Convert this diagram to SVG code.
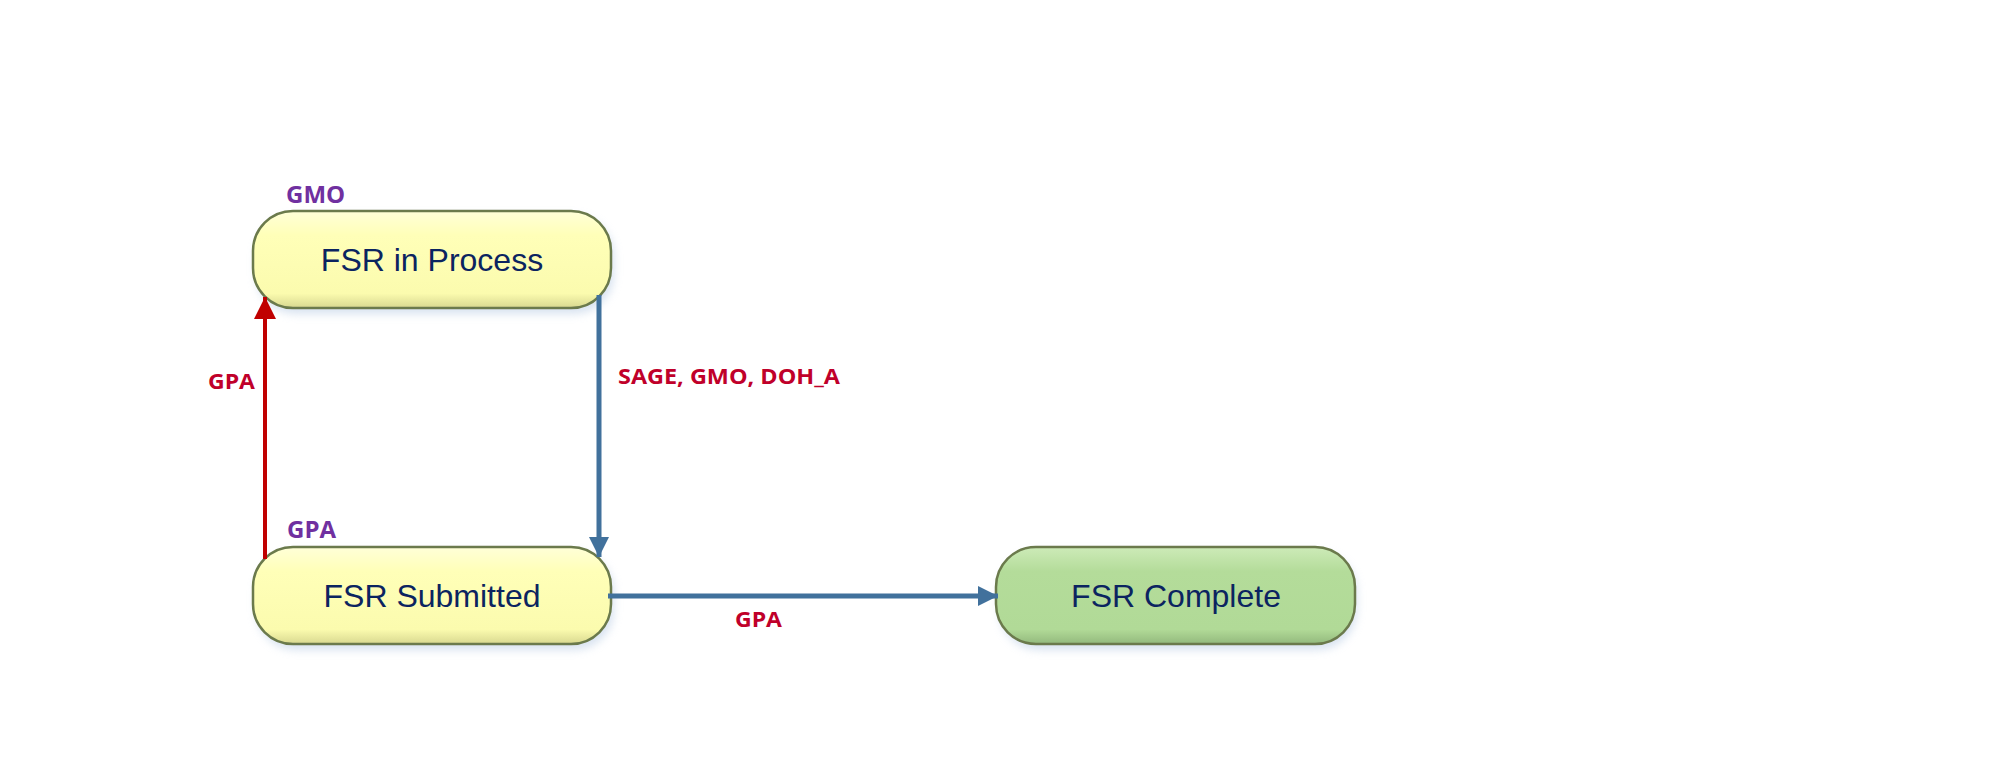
<svg xmlns="http://www.w3.org/2000/svg" width="2004" height="774" viewBox="0 0 2004 774">
<style>
.lbl{font-family:"Open Sans","Liberation Sans",sans-serif;font-weight:bold;}
.edge{fill:#C0002A;font-size:21px;}
.owner{fill:#7030A0;font-size:24px;}
.ntxt{font-family:"Liberation Sans",Arial,sans-serif;font-size:32px;fill:#0B2460;text-anchor:middle;}
.box{stroke:#6B7A4C;stroke-width:2.5;}
</style>
<defs>
<linearGradient id="yel" x1="0" y1="0" x2="0" y2="1">
<stop offset="0" stop-color="#FFFFD8"/>
<stop offset="0.25" stop-color="#FFFFB8"/>
<stop offset="0.85" stop-color="#FBFBAE"/>
<stop offset="1" stop-color="#D8D890"/>
</linearGradient>
<linearGradient id="grn" x1="0" y1="0" x2="0" y2="1">
<stop offset="0" stop-color="#CDEBB8"/>
<stop offset="0.25" stop-color="#B4DC9A"/>
<stop offset="0.85" stop-color="#B1DA97"/>
<stop offset="1" stop-color="#93B97D"/>
</linearGradient>
<filter id="sh" x="-10%" y="-20%" width="120%" height="150%">
<feGaussianBlur stdDeviation="4"/>
</filter>
<marker id="aBlue" viewBox="0 0 10 10" refX="10" refY="5" markerWidth="4" markerHeight="4" orient="auto" markerUnits="strokeWidth">
<path d="M0,0 L10,5 L0,10 z" fill="#41719C"/>
</marker>
<marker id="aRed" viewBox="0 0 10 10" refX="10" refY="5" markerWidth="5.5" markerHeight="5.5" orient="auto" markerUnits="strokeWidth">
<path d="M0,0 L10,5 L0,10 z" fill="#C00000"/>
</marker>
</defs>
<rect width="2004" height="774" fill="#FFFFFF"/>

<g id="node-inprocess">
<rect x="256" y="216" width="358" height="98" rx="40" fill="#BFD0E6" opacity="0.6" filter="url(#sh)"/>
<rect class="box" x="253" y="211" width="358" height="97" rx="40" fill="url(#yel)"/>
<text class="ntxt" x="432" y="271">FSR in Process</text>
<text class="lbl owner" x="286" y="203">GMO</text>
</g>

<g id="node-submitted">
<rect x="256" y="552" width="358" height="98" rx="40" fill="#BFD0E6" opacity="0.6" filter="url(#sh)"/>
<rect class="box" x="253" y="547" width="358" height="97" rx="40" fill="url(#yel)"/>
<text class="ntxt" x="432" y="607">FSR Submitted</text>
<text class="lbl owner" x="287" y="538">GPA</text>
</g>

<g id="node-complete">
<rect x="999" y="552" width="358" height="98" rx="40" fill="#BFD0E6" opacity="0.6" filter="url(#sh)"/>
<rect class="box" x="996" y="547" width="359" height="97" rx="40" fill="url(#grn)"/>
<text class="ntxt" x="1176" y="607">FSR Complete</text>
</g>

<g id="connectors">
<line x1="265" y1="559" x2="265" y2="297" stroke="#C00000" stroke-width="4" marker-end="url(#aRed)"/>
<line x1="599" y1="295" x2="599" y2="557" stroke="#41719C" stroke-width="5" marker-end="url(#aBlue)"/>
<line x1="608" y1="596" x2="998" y2="596" stroke="#41719C" stroke-width="5" marker-end="url(#aBlue)"/>
<text class="lbl edge" x="208" y="389" textLength="47" lengthAdjust="spacingAndGlyphs">GPA</text>
<text class="lbl edge" x="618" y="384" textLength="222" lengthAdjust="spacingAndGlyphs">SAGE, GMO, DOH_A</text>
<text class="lbl edge" x="735" y="627" textLength="47" lengthAdjust="spacingAndGlyphs">GPA</text>
</g>
</svg>
